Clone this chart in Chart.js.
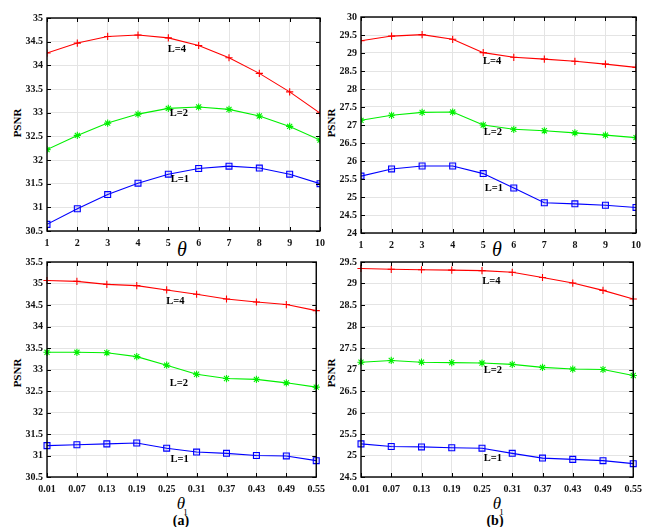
<!DOCTYPE html>
<html><head><meta charset="utf-8">
<script src="https://cdn.jsdelivr.net/npm/chart.js@4/dist/chart.umd.min.js"></script>
<style>
body{margin:0;background:#fff;width:648px;height:527px;position:relative;overflow:hidden;font-family:"Liberation Serif","Times New Roman",serif;}
canvas{position:absolute;}
.t{position:absolute;white-space:nowrap;color:#000;transform:translate(-50%,-50%);line-height:1;}
.psnr{font-weight:bold;font-size:11px;transform:translate(-50%,-50%) rotate(-90deg);}
.th{font-style:italic;font-size:20px;}
.th1{font-style:italic;font-size:17px;}
.sub{font-size:9px;}
.lab{font-weight:bold;font-size:14px;}
</style></head><body>
<div class="t psnr" style="left:16.5px;top:123px">PSNR</div>
<div class="t psnr" style="left:331px;top:123px">PSNR</div>
<div class="t psnr" style="left:16.5px;top:373px">PSNR</div>
<div class="t psnr" style="left:331px;top:373px">PSNR</div>
<div class="t th" style="left:182px;top:249px">θ</div>
<div class="t th" style="left:497px;top:249px">θ</div>
<div class="t th1" style="left:181px;top:503px">θ</div>
<div class="t sub" style="left:185.5px;top:512px">1</div>
<div class="t th1" style="left:497px;top:503px">θ</div>
<div class="t sub" style="left:501.5px;top:512px">1</div>
<div class="t lab" style="left:181px;top:521px">(a)</div>
<div class="t lab" style="left:495px;top:521px">(b)</div>
<script>
// ---- data ----
const thetaValues = [1,2,3,4,5,6,7,8,9,10];
const theta1Labels = ['0.01','0.07','0.13','0.19','0.25','0.31','0.37','0.43','0.49','0.55'];
const seriesNames = ['L=4','L=2','L=1'];

// (a) top: PSNR vs theta
const aTheta_L4 = [34.26,34.47,34.61,34.64,34.58,34.42,34.16,33.83,33.44,32.99];
const aTheta_L2 = [32.22,32.52,32.78,32.97,33.09,33.12,33.07,32.93,32.71,32.42];
const aTheta_L1 = [30.64,30.97,31.27,31.51,31.70,31.82,31.87,31.83,31.70,31.50];
// (b) top: PSNR vs theta
const bTheta_L4 = [29.34,29.47,29.51,29.38,29.01,28.88,28.83,28.77,28.69,28.60];
const bTheta_L2 = [27.13,27.27,27.35,27.36,27.00,26.88,26.84,26.78,26.72,26.65];
const bTheta_L1 = [25.58,25.78,25.86,25.86,25.65,25.25,24.84,24.81,24.77,24.71];
// (a) bottom: PSNR vs theta1
const aTheta1_L4 = [35.07,35.05,34.98,34.95,34.85,34.75,34.64,34.57,34.51,34.37];
const aTheta1_L2 = [33.40,33.40,33.39,33.30,33.10,32.89,32.79,32.77,32.69,32.59];
const aTheta1_L1 = [31.23,31.25,31.27,31.29,31.17,31.08,31.05,31.00,30.99,30.88];
// (b) bottom: PSNR vs theta1
const bTheta1_L4 = [29.35,29.33,29.32,29.31,29.30,29.26,29.14,29.01,28.84,28.64];
const bTheta1_L2 = [27.17,27.21,27.17,27.16,27.15,27.12,27.05,27.01,27.00,26.86];
const bTheta1_L1 = [25.27,25.21,25.20,25.18,25.17,25.05,24.94,24.91,24.88,24.81];

// y ranges
const yRangeATheta = [30.5, 35];
const yRangeBTheta = [24, 30];
const yRangeATheta1 = [30.5, 35.5];
const yRangeBTheta1 = [24.5, 29.5];

// annotation anchors (data coords): [x, y] for L=4, L=2, L=1
const notesATheta = [[4.98,34.34],[5.05,32.98],[5.08,31.60]];
const notesBTheta = [[4.99,28.76],[5.02,26.81],[5.05,25.23]];
const notesATheta1 = [[3.99,34.59],[4.1,32.69],[4.13,30.91]];
const notesBTheta1 = [[4.01,29.06],[4.06,26.98],[4.06,24.93]];

// ---- drawing ----
const tickFont = {family:'"Liberation Serif", serif', size:10, weight:'bold'};
const styles = [
  {borderColor:'#ff0000', backgroundColor:'#ff0000', pointStyle:'cross', pointRadius:3.6},
  {borderColor:'#00f000', backgroundColor:'#00f000', pointStyle:'star', pointRadius:3.6},
  {borderColor:'#0000ff', backgroundColor:'rgba(0,0,255,0.12)', pointStyle:'rect', pointRadius:4.2}
];

const boxPlugin = {
  id:'boxTicks',
  afterDraw(chart){
    const {ctx, chartArea:a, scales} = chart;
    ctx.save();
    ctx.strokeStyle = '#000';
    ctx.lineWidth = 1;
    const tl = 4;
    ctx.beginPath();
    scales.x.ticks.forEach((t,i)=>{
      const px = Math.round(scales.x.getPixelForTick(i))+0.5;
      ctx.moveTo(px,a.bottom); ctx.lineTo(px,a.bottom-tl);
      ctx.moveTo(px,a.top); ctx.lineTo(px,a.top+tl);
    });
    scales.y.ticks.forEach((t,i)=>{
      const py = Math.round(scales.y.getPixelForTick(i))+0.5;
      ctx.moveTo(a.left,py); ctx.lineTo(a.left+tl,py);
      ctx.moveTo(a.right,py); ctx.lineTo(a.right-tl,py);
    });
    ctx.stroke();
    ctx.lineWidth = 1.4;
    ctx.strokeRect(a.left, a.top, a.right-a.left, a.bottom-a.top);
    // series notes
    const notes = chart.options.plugins.boxTicks.notes;
    ctx.fillStyle = '#000';
    ctx.font = 'bold 10.5px "Liberation Serif", serif';
    ctx.textAlign = 'left';
    ctx.textBaseline = 'middle';
    notes.forEach((n,i)=>{
      ctx.fillText(seriesNames[i], scales.x.getPixelForValue(n[0]), scales.y.getPixelForValue(n[1]));
    });
    ctx.restore();
  }
};

function makeChart(box, xcfg, yr, series, notes){
  const padL=40, padT=8, padR=10, padB=22;
  const cv = document.createElement('canvas');
  const w = box.r-box.l+padL+padR, h = box.b-box.t+padT+padB;
  cv.width = w; cv.height = h;
  cv.style.width = w+'px'; cv.style.height = h+'px';
  cv.style.left = (box.l-padL)+'px'; cv.style.top = (box.t-padT)+'px';
  document.body.appendChild(cv);
  const isLinear = xcfg.type === 'linear';
  const datasets = series.map((vals,i)=>({
    label: seriesNames[i],
    data: isLinear ? vals.map((v,j)=>({x:thetaValues[j], y:v})) : vals,
    borderWidth: 1.1,
    pointBorderWidth: 1.1,
    tension: 0,
    ...styles[i]
  }));
  return new Chart(cv, {
    type:'line',
    data: isLinear ? {datasets} : {labels: theta1Labels, datasets},
    options:{
      responsive:false, animation:false, devicePixelRatio:1,
      layout:{padding:{top:padT, right:padR, left:0, bottom:0}},
      plugins:{legend:{display:false}, tooltip:{enabled:false}, boxTicks:{notes}},
      scales:{
        x:{
          ...xcfg,
          grid:{color:'#e4e4e4', drawTicks:false, lineWidth:1},
          border:{display:false},
          ticks:{...(xcfg.ticks||{}), font:tickFont, color:'#111', padding:6, maxRotation:0, autoSkip:false},
          afterFit(s){ s.height = padB; }
        },
        y:{
          min:yr[0], max:yr[1],
          grid:{color:'#e4e4e4', drawTicks:false, lineWidth:1},
          border:{display:false},
          ticks:{stepSize:0.5, font:tickFont, color:'#111', padding:4,
                 callback:v=>String(Math.round(v*10)/10)},
          afterFit(s){ s.width = padL; }
        }
      }
    },
    plugins:[boxPlugin]
  });
}

const linX = {type:'linear', min:1, max:10, ticks:{stepSize:1}};
const catX = {type:'category', offset:false};

makeChart({l:47,r:321,t:16,b:231}, linX, yRangeATheta, [aTheta_L4,aTheta_L2,aTheta_L1], notesATheta);
makeChart({l:361,r:637,t:15,b:233}, linX, yRangeBTheta, [bTheta_L4,bTheta_L2,bTheta_L1], notesBTheta);
makeChart({l:47,r:321,t:260,b:477}, catX, yRangeATheta1, [aTheta1_L4,aTheta1_L2,aTheta1_L1], notesATheta1);
makeChart({l:361,r:638,t:260,b:477}, catX, yRangeBTheta1, [bTheta1_L4,bTheta1_L2,bTheta1_L1], notesBTheta1);
</script>
</body></html>
